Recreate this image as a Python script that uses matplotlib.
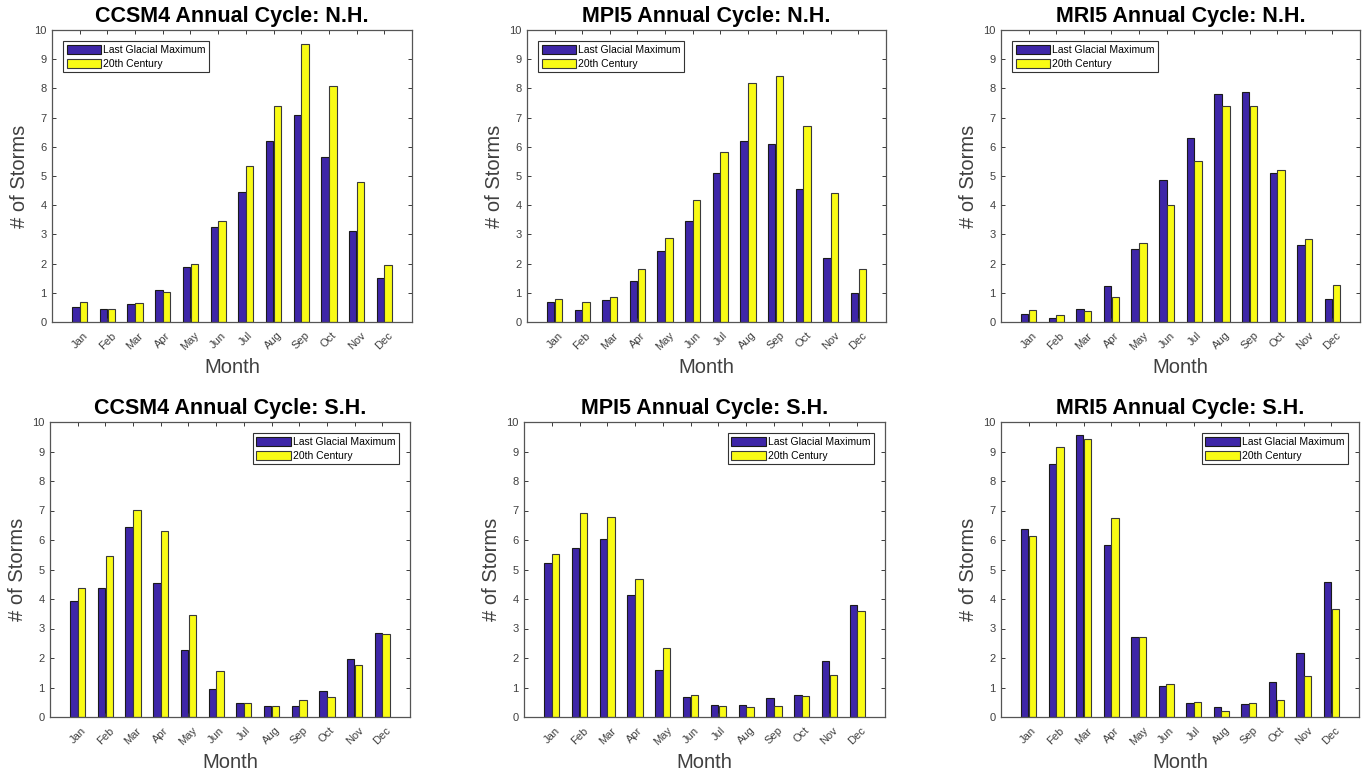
import numpy as np
import matplotlib
matplotlib.use("Agg")
import matplotlib.pyplot as plt

plt.rcParams['font.family'] = ['Liberation Sans', 'DejaVu Sans']

months = ['Jan', 'Feb', 'Mar', 'Apr', 'May', 'Jun',
          'Jul', 'Aug', 'Sep', 'Oct', 'Nov', 'Dec']
series_names = ['Last Glacial Maximum', '20th Century']

# Northern hemisphere storm counts per month
ccsm4_nh_lgm = [0.52, 0.45, 0.63, 1.08, 1.88, 3.26, 4.44, 6.20, 7.09, 5.66, 3.12, 1.51]
ccsm4_nh_20c = [0.69, 0.45, 0.65, 1.02, 1.99, 3.45, 5.33, 7.41, 9.51, 8.09, 4.81, 1.96]
mpi5_nh_lgm = [0.69, 0.41, 0.74, 1.41, 2.44, 3.47, 5.09, 6.20, 6.08, 4.54, 2.18, 1.01]
mpi5_nh_20c = [0.78, 0.69, 0.87, 1.81, 2.86, 4.17, 5.81, 8.20, 8.42, 6.72, 4.41, 1.81]
mri5_nh_lgm = [0.29, 0.15, 0.44, 1.24, 2.51, 4.85, 6.30, 7.81, 7.87, 5.11, 2.62, 0.80]
mri5_nh_20c = [0.41, 0.23, 0.39, 0.84, 2.71, 4.02, 5.51, 7.39, 7.39, 5.20, 2.84, 1.26]

# Southern hemisphere storm counts per month
ccsm4_sh_lgm = [3.92, 4.37, 6.43, 4.53, 2.28, 0.95, 0.46, 0.37, 0.37, 0.88, 1.95, 2.86]
ccsm4_sh_20c = [4.37, 5.47, 7.01, 6.32, 3.45, 1.55, 0.46, 0.37, 0.58, 0.68, 1.76, 2.80]
mpi5_sh_lgm = [5.23, 5.74, 6.04, 4.13, 1.61, 0.68, 0.41, 0.41, 0.64, 0.73, 1.91, 3.78]
mpi5_sh_20c = [5.53, 6.90, 6.77, 4.67, 2.34, 0.73, 0.37, 0.34, 0.37, 0.70, 1.43, 3.59]
mri5_sh_lgm = [6.38, 8.56, 9.56, 5.82, 2.70, 1.04, 0.49, 0.34, 0.45, 1.19, 2.16, 4.57]
mri5_sh_20c = [6.13, 9.16, 9.41, 6.74, 2.70, 1.13, 0.51, 0.20, 0.49, 0.58, 1.38, 3.65]

panels = [
    ('CCSM4 Annual Cycle: N.H.', ccsm4_nh_lgm, ccsm4_nh_20c, (52, 30, 412, 322), 'upper left'),
    ('MPI5 Annual Cycle: N.H.', mpi5_nh_lgm, mpi5_nh_20c, (527, 30, 886, 322), 'upper left'),
    ('MRI5 Annual Cycle: N.H.', mri5_nh_lgm, mri5_nh_20c, (1001, 30, 1360, 322), 'upper left'),
    ('CCSM4 Annual Cycle: S.H.', ccsm4_sh_lgm, ccsm4_sh_20c, (50, 422, 410, 717), 'upper right'),
    ('MPI5 Annual Cycle: S.H.', mpi5_sh_lgm, mpi5_sh_20c, (524, 422, 885, 717), 'upper right'),
    ('MRI5 Annual Cycle: S.H.', mri5_sh_lgm, mri5_sh_20c, (1001, 422, 1359, 717), 'upper right'),
]

W, H = 1371, 778
fig = plt.figure(figsize=(W / 100, H / 100), dpi=100)

c_lgm = '#3E26A8'
c_20c = '#F9FB15'
axis_col = '#3a3a3a'
x = np.arange(1, 13)
bw = 0.27
off = 0.14

for title, lgm, c20, (l, t, r, b), loc in panels:
    ax = fig.add_axes([l / W, (H - b) / H, (r - l) / W, (b - t) / H])
    ax.bar(x - off, lgm, bw, color=c_lgm, edgecolor='#1a1a1a', linewidth=0.8,
           label=series_names[0])
    ax.bar(x + off, c20, bw, color=c_20c, edgecolor='#3a3a3a', linewidth=0.8,
           label=series_names[1])
    ax.set_xlim(0, 13)
    ax.set_ylim(0, 10)
    ax.set_yticks(range(0, 11))
    ax.set_xticks(x)
    ax.set_xticklabels(months, rotation=45, ha='center', va='top')
    ax.tick_params(axis='both', direction='in', length=3, width=0.7,
                   top=True, right=True, labelsize=8, colors=axis_col,
                   labelcolor='#404040')
    ax.tick_params(axis='x', pad=6)
    ax.tick_params(axis='y', pad=4)
    for s in ax.spines.values():
        s.set_color('#555555')
        s.set_linewidth(0.9)
    ax.set_title(title, fontsize=15.5, fontweight='bold', pad=6)
    ax.set_xlabel('Month', fontsize=14.5, color='#404040', labelpad=4)
    ax.set_ylabel('# of Storms', fontsize=14.5, color='#404040', labelpad=4)
    leg = ax.legend(loc=loc, fontsize=7.5, fancybox=False, framealpha=1,
                    edgecolor='#333333', borderaxespad=1.1, borderpad=0.3,
                    handlelength=3.3, handleheight=1.05, handletextpad=0.2,
                    labelspacing=0.35)
    leg.get_frame().set_linewidth(0.8)

fig.savefig('out.png', dpi=100, facecolor='white')
